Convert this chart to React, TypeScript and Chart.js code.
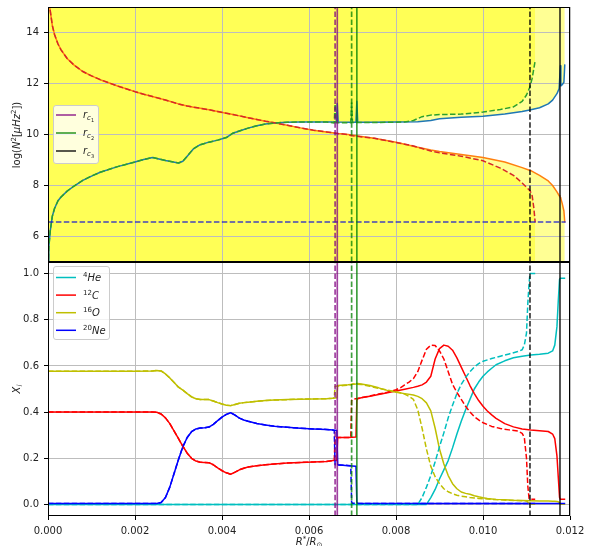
import React, { useEffect, useRef } from 'react';
import { Chart, registerables } from 'chart.js';

Chart.register(...registerables);

const FONT = '"DejaVu Sans", sans-serif';
const TEXT = '#222';

// ---------- axes ----------
const xMin = 0;
const xMax = 0.012;
const xTickValues = [0, 0.002, 0.004, 0.006, 0.008, 0.01, 0.012];
const topYMin = 5;
const topYMax = 15;
const topYTickValues = [6, 8, 10, 12, 14];
const botYMin = -0.05;
const botYMax = 1.05;
const botYTickValues = [0, 0.2, 0.4, 0.6, 0.8, 1.0];

// ---------- convective boundaries r_c1, r_c2, r_c3 ----------
const rcSolidModel = [0.00665, 0.0071, 0.01177];
const rcDashedModel = [0.0066, 0.00698, 0.01108];
const rcIndex = ['1', '2', '3'];
const rcColors = ['rgba(128,0,128,0.75)', 'rgba(0,128,0,0.75)', 'rgba(0,0,0,0.78)'];

// ---------- horizontal frequency line ----------
const freqLevel = 6.57;
const freqRange = [0, 0.0119];

// ---------- top panel: log N^2 and log S^2 ----------
const rTopCore = [0, 0.00002, 0.00005, 0.0001, 0.00015, 0.00023, 0.0003, 0.00044, 0.0006, 0.0008, 0.001, 0.0012, 0.0016, 0.002, 0.0022, 0.0024, 0.0027, 0.003, 0.0031, 0.0032, 0.00335, 0.0035, 0.0037, 0.0039, 0.0041, 0.00425, 0.0044, 0.0046, 0.0048, 0.005, 0.0052, 0.0055, 0.0058, 0.0061, 0.0064];
const logN2Core = [4.8, 5.6, 6.2, 6.8, 7.1, 7.4, 7.55, 7.78, 7.98, 8.2, 8.37, 8.52, 8.74, 8.92, 9.02, 9.1, 8.98, 8.88, 8.95, 9.15, 9.45, 9.6, 9.7, 9.78, 9.88, 10.05, 10.14, 10.25, 10.34, 10.41, 10.45, 10.48, 10.49, 10.49, 10.49];
const logS2Core = [15.5, 15.2, 14.87, 14.27, 13.92, 13.55, 13.32, 12.98, 12.72, 12.47, 12.3, 12.15, 11.9, 11.68, 11.58, 11.49, 11.35, 11.2, 11.16, 11.12, 11.07, 11.03, 10.97, 10.9, 10.83, 10.78, 10.73, 10.66, 10.59, 10.52, 10.46, 10.36, 10.26, 10.17, 10.1];

const rTopSolidTail = [0.00663, 0.00665, 0.00667, 0.0069, 0.00708, 0.0071, 0.00712, 0.0075, 0.008, 0.0085, 0.0088, 0.009, 0.0095, 0.01, 0.0105, 0.0109, 0.0111, 0.0113, 0.0115, 0.0116, 0.0117, 0.01175, 0.01177, 0.01178, 0.01179, 0.01182, 0.01186, 0.01188];
const logN2SolidTail = [10.49, 11.22, 10.49, 10.48, 10.48, 11.3, 10.48, 10.48, 10.49, 10.5, 10.55, 10.62, 10.68, 10.72, 10.8, 10.9, 10.97, 11.05, 11.2, 11.35, 11.6, 11.8, 11.8, 12.7, 11.9, 11.95, 12.05, 12.75];
const logS2SolidTail = [10.05, 10.045, 10.04, 10.0, 9.955, 9.95, 9.945, 9.85, 9.7, 9.5, 9.39, 9.33, 9.22, 9.1, 8.92, 8.7, 8.58, 8.4, 8.18, 8.0, 7.75, 7.6, 7.55, 7.52, 7.48, 7.3, 7.0, 6.55];

const rTopDashedTail = [0.00658, 0.0066, 0.00662, 0.0069, 0.00696, 0.00698, 0.007, 0.0075, 0.0082, 0.0084, 0.0086, 0.0088, 0.009, 0.0095, 0.01, 0.0104, 0.0107, 0.0109, 0.011, 0.01108, 0.01113, 0.01117, 0.0112];
const logN2DashedTail = [10.45, 11.2, 10.46, 10.46, 10.46, 11.3, 10.47, 10.47, 10.49, 10.55, 10.7, 10.76, 10.78, 10.8, 10.88, 10.98, 11.08, 11.3, 11.55, 11.87, 12.2, 12.6, 12.9];
const logS2DashedTail = [10.06, 10.05, 10.045, 10.0, 9.96, 9.955, 9.95, 9.85, 9.62, 9.55, 9.45, 9.35, 9.28, 9.15, 8.97, 8.68, 8.4, 8.1, 7.93, 7.8, 7.6, 7.1, 6.55];

// ---------- bottom panel: mass fractions ----------
const rAbCore = [0, 0.001, 0.002, 0.0024, 0.0025, 0.0026, 0.0027, 0.0028, 0.0029, 0.003, 0.0031, 0.0032, 0.0033, 0.0034, 0.0035, 0.0036, 0.0037, 0.0038, 0.0039, 0.004, 0.0041, 0.0042, 0.0043, 0.0044, 0.0045, 0.0046, 0.0048, 0.005, 0.0052, 0.0055, 0.0058, 0.0061, 0.0064, 0.00655];
const he4Core = [0, 0, 0, 0, 0, 0, 0, 0, 0, 0, 0, 0, 0, 0, 0, 0, 0, 0, 0, 0, 0, 0, 0, 0, 0, 0, 0, 0, 0, 0, 0, 0, 0, 0];
const c12Core = [0.4, 0.4, 0.4, 0.4, 0.399, 0.392, 0.375, 0.35, 0.318, 0.285, 0.252, 0.222, 0.2, 0.188, 0.183, 0.182, 0.181, 0.172, 0.158, 0.146, 0.137, 0.131, 0.14, 0.15, 0.157, 0.162, 0.168, 0.172, 0.175, 0.179, 0.182, 0.184, 0.186, 0.19];
const o16Core = [0.577, 0.577, 0.577, 0.578, 0.58, 0.578, 0.565, 0.548, 0.528, 0.508, 0.495, 0.48, 0.466, 0.458, 0.455, 0.455, 0.454, 0.448, 0.441, 0.435, 0.43, 0.428, 0.433, 0.438, 0.441, 0.443, 0.447, 0.45, 0.452, 0.454, 0.456, 0.457, 0.458, 0.46];
const ne20Core = [0.004, 0.004, 0.004, 0.004, 0.004, 0.008, 0.03, 0.075, 0.135, 0.195, 0.25, 0.29, 0.315, 0.327, 0.331, 0.332, 0.335, 0.347, 0.363, 0.378, 0.39, 0.397, 0.387, 0.374, 0.366, 0.36, 0.351, 0.344, 0.339, 0.334, 0.33, 0.327, 0.325, 0.322];

const rAbSolidTail = [0.00664, 0.00666, 0.0069, 0.00708, 0.0071, 0.00712, 0.0072, 0.0074, 0.0076, 0.0078, 0.008, 0.0082, 0.0084, 0.0085, 0.0086, 0.0087, 0.0088, 0.0089, 0.009, 0.0091, 0.0092, 0.0093, 0.0094, 0.0095, 0.0096, 0.0097, 0.0098, 0.0099, 0.01, 0.0101, 0.0102, 0.0103, 0.0105, 0.0107, 0.0109, 0.0111, 0.0113, 0.0115, 0.0116, 0.01165, 0.0117, 0.01173, 0.01176, 0.01178, 0.0118, 0.01189];
const he4SolidTail = [0, 0, 0, 0, 0, 0, 0, 0, 0, 0, 0, 0, 0, 0, 0, 0, 0.03, 0.065, 0.11, 0.15, 0.19, 0.245, 0.305, 0.36, 0.41, 0.455, 0.5, 0.53, 0.555, 0.574, 0.59, 0.605, 0.622, 0.635, 0.642, 0.647, 0.65, 0.655, 0.665, 0.69, 0.77, 0.88, 0.975, 0.98, 0.98, 0.98];
const c12SolidTail = [0.19, 0.29, 0.29, 0.292, 0.45, 0.458, 0.462, 0.469, 0.476, 0.484, 0.491, 0.499, 0.507, 0.512, 0.518, 0.53, 0.555, 0.63, 0.675, 0.69, 0.685, 0.668, 0.635, 0.595, 0.555, 0.515, 0.48, 0.45, 0.425, 0.405, 0.388, 0.373, 0.35, 0.336, 0.327, 0.322, 0.319, 0.316, 0.305, 0.285, 0.21, 0.12, 0.03, 0.022, 0.022, 0.022];
const o16SolidTail = [0.462, 0.515, 0.518, 0.522, 0.524, 0.524, 0.522, 0.515, 0.505, 0.494, 0.486, 0.48, 0.474, 0.468, 0.458, 0.44, 0.405, 0.33, 0.24, 0.175, 0.125, 0.09, 0.068, 0.054, 0.048, 0.044, 0.038, 0.033, 0.029, 0.026, 0.024, 0.022, 0.02, 0.018, 0.017, 0.016, 0.015, 0.015, 0.014, 0.014, 0.013, 0.012, 0.006, 0.002, 0.001, 0.001];
const ne20SolidTail = [0.32, 0.172, 0.168, 0.165, 0.01, 0.005, 0.004, 0.004, 0.004, 0.004, 0.004, 0.004, 0.004, 0.004, 0.004, 0.004, 0.004, 0.004, 0.004, 0.004, 0.004, 0.004, 0.004, 0.004, 0.004, 0.004, 0.004, 0.004, 0.004, 0.004, 0.004, 0.004, 0.004, 0.004, 0.004, 0.004, 0.004, 0.004, 0.004, 0.004, 0.004, 0.004, 0.004, 0.004, 0.004, 0.004];

const rAbDashedTail = [0.00658, 0.0066, 0.0068, 0.00696, 0.00698, 0.007, 0.0072, 0.0074, 0.0076, 0.0078, 0.008, 0.0081, 0.0082, 0.0083, 0.0084, 0.0085, 0.0086, 0.0087, 0.0088, 0.0089, 0.009, 0.0091, 0.0092, 0.0093, 0.0094, 0.0095, 0.0096, 0.0097, 0.0098, 0.0099, 0.01, 0.0102, 0.0104, 0.0106, 0.0108, 0.0109, 0.01095, 0.011, 0.01103, 0.01106, 0.01108, 0.0112];
const he4DashedTail = [0, 0, 0, 0, 0, 0, 0, 0, 0, 0, 0, 0, 0, 0, 0, 0, 0.03, 0.075, 0.125, 0.185, 0.25, 0.31, 0.375, 0.43, 0.48, 0.52, 0.55, 0.575, 0.595, 0.61, 0.62, 0.632, 0.642, 0.652, 0.662, 0.67, 0.69, 0.742, 0.87, 0.96, 1.0, 1.0];
const c12DashedTail = [0.19, 0.29, 0.29, 0.29, 0.45, 0.455, 0.462, 0.47, 0.478, 0.486, 0.497, 0.505, 0.518, 0.53, 0.545, 0.575, 0.625, 0.672, 0.69, 0.688, 0.665, 0.63, 0.575, 0.52, 0.485, 0.455, 0.425, 0.4, 0.38, 0.366, 0.354, 0.338, 0.329, 0.323, 0.318, 0.308, 0.29, 0.2, 0.08, 0.025, 0.022, 0.022];
const o16DashedTail = [0.462, 0.512, 0.515, 0.518, 0.52, 0.522, 0.52, 0.512, 0.503, 0.495, 0.488, 0.484, 0.478, 0.468, 0.455, 0.41, 0.33, 0.24, 0.165, 0.12, 0.09, 0.068, 0.055, 0.046, 0.04, 0.036, 0.033, 0.03, 0.028, 0.026, 0.025, 0.022, 0.02, 0.018, 0.017, 0.016, 0.016, 0.015, 0.01, 0.003, 0.001, 0.001];
const ne20DashedTail = [0.32, 0.172, 0.17, 0.168, 0.01, 0.005, 0.004, 0.004, 0.004, 0.004, 0.004, 0.004, 0.004, 0.004, 0.004, 0.004, 0.004, 0.004, 0.004, 0.004, 0.004, 0.004, 0.004, 0.004, 0.004, 0.004, 0.004, 0.004, 0.004, 0.004, 0.004, 0.004, 0.004, 0.004, 0.004, 0.004, 0.004, 0.004, 0.004, 0.004, 0.004, 0.004];

const speciesMass = ['4', '12', '16', '20'];
const speciesName = ['He', 'C', 'O', 'Ne'];
const speciesColors = ['#00bfbf', '#ff0000', '#bfbf00', '#0000ff'];

// ---------- styles ----------
const LW = 1.5;
const DASH = [5.5, 2.4];
const FILL = 'rgba(255,255,0,0.42)';
const GRID = '#bdbdbd';

type Seg = { t: string; s: number; i?: boolean; dy?: number };
function setFont(ctx: CanvasRenderingContext2D, s: number, i?: boolean) {
  ctx.font = `${i ? 'italic ' : ''}${s}px ${FONT}`;
}
function segsWidth(ctx: CanvasRenderingContext2D, segs: Seg[]) {
  let w = 0;
  for (const g of segs) { setFont(ctx, g.s, g.i); w += ctx.measureText(g.t).width; }
  return w;
}
function drawSegs(ctx: CanvasRenderingContext2D, segs: Seg[], x: number, y: number, center: boolean) {
  let cx = center ? x - segsWidth(ctx, segs) / 2 : x;
  ctx.textAlign = 'left';
  ctx.textBaseline = 'alphabetic';
  ctx.fillStyle = TEXT;
  for (const g of segs) {
    setFont(ctx, g.s, g.i);
    ctx.fillText(g.t, cx, y + (g.dy || 0));
    cx += ctx.measureText(g.t).width;
  }
}

function pts(xs: number[], ys: number[]) {
  return xs.map((x, i) => ({ x, y: ys[i] }));
}
function lineDs(data: any[], color: string, dashed: boolean, width = LW) {
  return {
    data, borderColor: color, borderWidth: width, borderDash: dashed ? DASH : [],
    borderJoinStyle: 'round', pointRadius: 0, fill: false, tension: 0,
  };
}
function fillDs(data: any[], fill: string) {
  return {
    data, borderColor: 'rgba(0,0,0,0)', borderWidth: 1, backgroundColor: FILL,
    pointRadius: 0, fill, tension: 0,
  };
}
function vLines(y0: number, y1: number) {
  const out: any[] = [];
  for (let k = 0; k < 3; k++) {
    out.push(lineDs([{ x: rcSolidModel[k], y: y0 }, { x: rcSolidModel[k], y: y1 }], rcColors[k], false, 1.7));
    out.push(lineDs([{ x: rcDashedModel[k], y: y0 }, { x: rcDashedModel[k], y: y1 }], rcColors[k], true, 1.7));
  }
  return out;
}

const framePlugin = {
  id: 'frame',
  afterDatasetsDraw(chart: any) {
    const { ctx, chartArea: a } = chart;
    ctx.save();
    ctx.strokeStyle = '#000';
    ctx.lineWidth = 1;
    ctx.setLineDash([]);
    ctx.strokeRect(a.left + 0.5, a.top + 0.5, a.right - a.left - 1, a.bottom - a.top - 1);
    ctx.restore();
  },
};

function xAxis(showLabels: boolean, height: number) {
  return {
    type: 'linear', min: xMin, max: xMax,
    afterBuildTicks: (ax: any) => { ax.ticks = xTickValues.map((v) => ({ value: v })); },
    afterFit: (ax: any) => {
      ax.height = height;
      ax.paddingLeft = 0; ax.paddingRight = 0; ax.paddingTop = 0; ax.paddingBottom = 0;
    },
    border: { display: false },
    grid: showLabels
      ? { color: GRID, lineWidth: 1, tickColor: '#000', tickLength: 4, drawTicks: true }
      : { drawOnChartArea: false, drawTicks: false },
    ticks: {
      display: showLabels, autoSkip: false, maxRotation: 0, padding: 5, color: TEXT,
      font: { family: FONT, size: 10 },
      callback: (v: any) => Number(v).toFixed(3),
    },
  };
}
function yAxis(min: number, max: number, ticks: number[], digits: number, gridOnArea: boolean) {
  return {
    type: 'linear', min, max,
    afterBuildTicks: (ax: any) => { ax.ticks = ticks.map((v) => ({ value: v })); },
    afterFit: (ax: any) => {
      ax.width = 48;
      ax.paddingLeft = 0; ax.paddingRight = 0; ax.paddingTop = 0; ax.paddingBottom = 0;
    },
    border: { display: false },
    grid: gridOnArea
      ? { color: GRID, lineWidth: 1, tickColor: '#000', tickLength: 4 }
      : { drawOnChartArea: false, tickColor: '#000', tickLength: 4 },
    ticks: {
      autoSkip: false, padding: 5, color: TEXT, font: { family: FONT, size: 10 },
      callback: (v: any) => Number(v).toFixed(digits),
    },
  };
}

export default function App() {
  const topRef = useRef<HTMLCanvasElement>(null);
  const botRef = useRef<HTMLCanvasElement>(null);

  useEffect(() => {
    const rSolid = [...rTopCore, ...rTopSolidTail];
    const nSolid = [...logN2Core, ...logN2SolidTail];
    const sSolid = [...logS2Core, ...logS2SolidTail];
    const rDashed = [...rTopCore, ...rTopDashedTail];
    const nDashed = [...logN2Core, ...logN2DashedTail];
    const sDashed = [...logS2Core, ...logS2DashedTail];
    const upperSolid = nSolid.map((n, i) => Math.max(n, sSolid[i]));
    const upperDashed = nDashed.map((n, i) => Math.max(n, sDashed[i]));

    const GRID_AFTER = 10;
    const topGridPlugin = {
      id: 'topGrid',
      beforeDatasetDraw(chart: any, args: any) {
        if (args.index !== GRID_AFTER) return;
        const { ctx, chartArea: a, scales } = chart;
        ctx.save();
        ctx.strokeStyle = GRID;
        ctx.lineWidth = 1;
        ctx.setLineDash([]);
        ctx.beginPath();
        for (const v of xTickValues) {
          const p = Math.round(scales.x.getPixelForValue(v) - 0.5) + 0.5;
          ctx.moveTo(p, a.top); ctx.lineTo(p, a.bottom);
        }
        for (const v of topYTickValues) {
          const p = Math.round(scales.y.getPixelForValue(v) - 0.5) + 0.5;
          ctx.moveTo(a.left, p); ctx.lineTo(a.right, p);
        }
        ctx.stroke();
        ctx.restore();
      },
    };

    const topLegendPlugin = {
      id: 'topLegend',
      afterDraw(chart: any) {
        const { ctx } = chart;
        ctx.save();
        ctx.beginPath();
        ctx.roundRect(53.5, 105.5, 45, 58, 2.5);
        ctx.fillStyle = 'rgba(255,255,255,0.8)';
        ctx.fill();
        ctx.strokeStyle = '#cccccc';
        ctx.lineWidth = 1;
        ctx.stroke();
        for (let k = 0; k < 3; k++) {
          const y = 115 + k * 18;
          ctx.beginPath();
          ctx.strokeStyle = rcColors[k];
          ctx.lineWidth = 1.7;
          ctx.moveTo(56, y); ctx.lineTo(76, y);
          ctx.stroke();
          drawSegs(ctx, [
            { t: 'r', s: 10, i: true },
            { t: 'c', s: 7, i: true, dy: 2 },
            { t: rcIndex[k], s: 5, dy: 4 },
          ], 83, y + 3, false);
        }
        ctx.save();
        ctx.translate(20, 135);
        ctx.rotate(-Math.PI / 2);
        drawSegs(ctx, [
          { t: 'log(', s: 10 }, { t: 'N', s: 10, i: true }, { t: '2', s: 7, dy: -4 },
          { t: '[', s: 10 }, { t: 'μHz', s: 10, i: true }, { t: '2', s: 7, dy: -4 },
          { t: '])', s: 10 },
        ], 0, 0, true);
        ctx.restore();
        ctx.restore();
      },
    };

    const botLegendPlugin = {
      id: 'botLegend',
      afterDraw(chart: any) {
        const { ctx } = chart;
        ctx.save();
        ctx.beginPath();
        ctx.roundRect(53.5, 266.5, 56, 73, 2.5);
        ctx.fillStyle = 'rgba(255,255,255,0.8)';
        ctx.fill();
        ctx.strokeStyle = '#cccccc';
        ctx.lineWidth = 1;
        ctx.stroke();
        for (let k = 0; k < 4; k++) {
          const y = 277.5 + k * 17.6;
          ctx.beginPath();
          ctx.strokeStyle = speciesColors[k];
          ctx.lineWidth = LW;
          ctx.moveTo(56, y); ctx.lineTo(76, y);
          ctx.stroke();
          drawSegs(ctx, [
            { t: speciesMass[k], s: 7, dy: -4 },
            { t: speciesName[k], s: 10, i: true },
          ], 83, y + 3.5, false);
        }
        ctx.save();
        ctx.translate(20, 389);
        ctx.rotate(-Math.PI / 2);
        drawSegs(ctx, [{ t: 'X', s: 10, i: true }, { t: 'i', s: 7, i: true, dy: 2 }], 0, 0, true);
        ctx.restore();
        drawSegs(ctx, [
          { t: 'R', s: 10, i: true }, { t: '*', s: 7, dy: -4 }, { t: '/', s: 10 },
          { t: 'R', s: 10, i: true }, { t: '⊙', s: 7, dy: 2 },
        ], 309, 545, true);
        ctx.restore();
      },
    };

    const topChart = new Chart(topRef.current as HTMLCanvasElement, {
      type: 'line',
      data: {
        datasets: [
          ...vLines(topYMin, topYMax),
          lineDs([{ x: freqRange[0], y: freqLevel }, { x: freqRange[1], y: freqLevel }], 'rgba(20,20,210,0.8)', true),
          lineDs(pts(rDashed, nDashed), '#2ca02c', true),
          lineDs(pts(rDashed, sDashed), '#d62728', true),
          lineDs(pts(rSolid, nSolid), '#1f77b4', false),
          lineDs(pts(rSolid, sSolid), '#ff7f0e', false),
          fillDs(pts(rDashed, upperDashed), 'end'),
          fillDs(pts(rDashed, sDashed), 'start'),
          fillDs(pts(rSolid, upperSolid), 'end'),
          fillDs(pts(rSolid, sSolid), 'start'),
        ] as any,
      },
      options: {
        animation: false, responsive: false, devicePixelRatio: 1, events: [],
        layout: { padding: { top: 7, right: 20, bottom: 284, left: 0 } },
        plugins: { legend: { display: false }, tooltip: { enabled: false } },
        scales: {
          x: xAxis(false, 0) as any,
          y: yAxis(topYMin, topYMax, topYTickValues, 0, false) as any,
        },
      },
      plugins: [topGridPlugin, framePlugin, topLegendPlugin],
    });

    const rS = [...rAbCore, ...rAbSolidTail];
    const rD = [...rAbCore, ...rAbDashedTail];
    const solid = [
      [...he4Core, ...he4SolidTail], [...c12Core, ...c12SolidTail],
      [...o16Core, ...o16SolidTail], [...ne20Core, ...ne20SolidTail],
    ];
    const dashed = [
      [...he4Core, ...he4DashedTail], [...c12Core, ...c12DashedTail],
      [...o16Core, ...o16DashedTail], [...ne20Core, ...ne20DashedTail],
    ];
    const order = [3, 2, 1, 0];
    const botChart = new Chart(botRef.current as HTMLCanvasElement, {
      type: 'line',
      data: {
        datasets: [
          ...vLines(botYMin, botYMax),
          ...order.map((k) => lineDs(pts(rD, dashed[k]), speciesColors[k], true)),
          ...order.map((k) => lineDs(pts(rS, solid[k]), speciesColors[k], false)),
        ] as any,
      },
      options: {
        animation: false, responsive: false, devicePixelRatio: 1, events: [],
        layout: { padding: { top: 262, right: 20, bottom: 0, left: 0 } },
        plugins: { legend: { display: false }, tooltip: { enabled: false } },
        scales: {
          x: xAxis(true, 30) as any,
          y: yAxis(botYMin, botYMax, botYTickValues, 1, true) as any,
        },
      },
      plugins: [framePlugin, botLegendPlugin],
    });

    return () => { topChart.destroy(); botChart.destroy(); };
  }, []);

  const cs: React.CSSProperties = { position: 'absolute', left: 0, top: 0, width: 590, height: 546 };
  return (
    <div style={{ position: 'absolute', left: 0, top: 0, width: 590, height: 546, background: '#fff' }}>
      <canvas ref={botRef} width={590} height={546} style={cs} />
      <canvas ref={topRef} width={590} height={546} style={cs} />
    </div>
  );
}
